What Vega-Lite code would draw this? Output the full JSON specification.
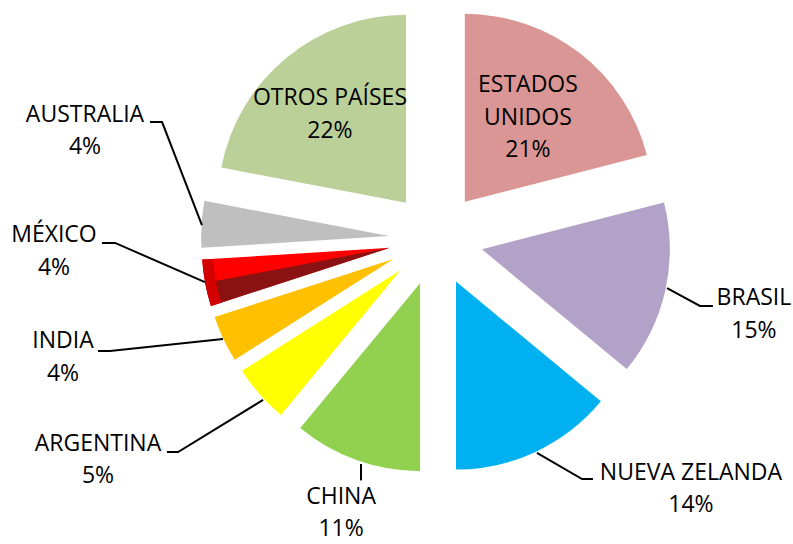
{
  "$schema": "https://vega.github.io/schema/vega-lite/v6.json",
  "width": 793,
  "height": 544,
  "padding": 0,
  "autosize": {"type": "none"},
  "background": "white",
  "config": {"view": {"stroke": null}},
  "datasets": {
    "shares": [
      {"country": "ESTADOS UNIDOS", "pct": 21, "order": 1},
      {"country": "BRASIL", "pct": 15, "order": 2},
      {"country": "NUEVA ZELANDA", "pct": 14, "order": 3},
      {"country": "CHINA", "pct": 11, "order": 4},
      {"country": "ARGENTINA", "pct": 5, "order": 5},
      {"country": "INDIA", "pct": 4, "order": 6},
      {"country": "MÉXICO", "pct": 4, "order": 7},
      {"country": "AUSTRALIA", "pct": 4, "order": 8},
      {"country": "OTROS PAÍSES", "pct": 22, "order": 9}
    ],
    "labels": [
      {"country": "ESTADOS UNIDOS", "lx": 0.489, "ly": 0.819},
      {"country": "BRASIL", "lx": 1.691, "ly": -0.316},
      {"country": "NUEVA ZELANDA", "lx": 1.356, "ly": -1.242},
      {"country": "CHINA", "lx": -0.505, "ly": -1.372},
      {"country": "ARGENTINA", "lx": -1.798, "ly": -1.088},
      {"country": "INDIA", "lx": -1.984, "ly": -0.545},
      {"country": "MÉXICO", "lx": -2.032, "ly": 0.021},
      {"country": "AUSTRALIA", "lx": -1.867, "ly": 0.662},
      {"country": "OTROS PAÍSES", "lx": -0.564, "ly": 0.75}
    ],
    "leaders": [
      {"country": "AUSTRALIA", "seq": 1, "lx": -1.245, "ly": 0.074},
      {"country": "AUSTRALIA", "seq": 2, "lx": -1.457, "ly": 0.622},
      {"country": "AUSTRALIA", "seq": 3, "lx": -1.521, "ly": 0.622},
      {"country": "MÉXICO", "seq": 1, "lx": -1.229, "ly": -0.229},
      {"country": "MÉXICO", "seq": 2, "lx": -1.707, "ly": -0.021},
      {"country": "MÉXICO", "seq": 3, "lx": -1.777, "ly": -0.021},
      {"country": "INDIA", "seq": 1, "lx": -1.133, "ly": -0.532},
      {"country": "INDIA", "seq": 2, "lx": -1.734, "ly": -0.596},
      {"country": "INDIA", "seq": 3, "lx": -1.798, "ly": -0.596},
      {"country": "ARGENTINA", "seq": 1, "lx": -0.92, "ly": -0.856},
      {"country": "ARGENTINA", "seq": 2, "lx": -1.372, "ly": -1.133},
      {"country": "ARGENTINA", "seq": 3, "lx": -1.431, "ly": -1.133},
      {"country": "CHINA", "seq": 1, "lx": -0.399, "ly": -1.197},
      {"country": "CHINA", "seq": 2, "lx": -0.399, "ly": -1.284},
      {"country": "NUEVA ZELANDA", "seq": 1, "lx": 0.537, "ly": -1.138},
      {"country": "NUEVA ZELANDA", "seq": 2, "lx": 0.777, "ly": -1.277},
      {"country": "NUEVA ZELANDA", "seq": 3, "lx": 0.835, "ly": -1.277},
      {"country": "BRASIL", "seq": 1, "lx": 1.229, "ly": -0.261},
      {"country": "BRASIL", "seq": 2, "lx": 1.404, "ly": -0.356},
      {"country": "BRASIL", "seq": 3, "lx": 1.473, "ly": -0.356}
    ]
  },
  "layer": [
    {
      "data": {"name": "shares"},
      "transform": [
        {"window": [{"op": "sum", "field": "pct", "as": "cum"}], "sort": [{"field": "order"}], "frame": [null, 0]},
        {"calculate": "datum.cum - datum.pct", "as": "start"},
        {"calculate": "(datum.start + datum.pct / 2) * PI / 50", "as": "mid"},
        {"calculate": "0.25 * sin(datum.mid)", "as": "ex"},
        {"calculate": "0.25 * cos(datum.mid)", "as": "ey"}
      ],
      "mark": {"type": "arc", "radius": 188},
      "encoding": {
        "x": {"field": "ex", "type": "quantitative", "scale": {"domain": [-2.3191, 1.8989], "nice": false, "zero": false}, "axis": null},
        "y": {"field": "ey", "type": "quantitative", "scale": {"domain": [-1.6223, 1.2713], "nice": false, "zero": false}, "axis": null},
        "theta": {"field": "start", "type": "quantitative", "scale": {"domain": [0, 100], "range": [0, 6.283185]}, "stack": null},
        "theta2": {"field": "cum"},
        "color": {
          "field": "country",
          "type": "nominal",
          "scale": {
            "domain": ["ESTADOS UNIDOS", "BRASIL", "NUEVA ZELANDA", "CHINA", "ARGENTINA", "INDIA", "MÉXICO", "AUSTRALIA", "OTROS PAÍSES"],
            "range": ["#DA9694", "#B3A2C7", "#00B0F0", "#92D050", "#FFFF00", "#FFC000", "#FF0000", "#BFBFBF", "#BBD098"]
          },
          "legend": null
        }
      }
    },
    {
      "data": {"name": "shares"},
      "transform": [
        {"window": [{"op": "sum", "field": "pct", "as": "cum"}], "sort": [{"field": "order"}], "frame": [null, 0]},
        {"calculate": "datum.cum - datum.pct", "as": "start"},
        {"calculate": "datum.start + datum.pct / 2", "as": "half"},
        {"calculate": "(datum.start + datum.pct / 2) * PI / 50", "as": "mid"},
        {"calculate": "0.25 * sin(datum.mid)", "as": "ex"},
        {"calculate": "0.25 * cos(datum.mid)", "as": "ey"},
        {"filter": "datum.country === 'MÉXICO'"}
      ],
      "mark": {"type": "arc", "radius": 188, "color": "#8B1212"},
      "encoding": {
        "x": {"field": "ex", "type": "quantitative", "scale": {"domain": [-2.3191, 1.8989], "nice": false, "zero": false}, "axis": null},
        "y": {"field": "ey", "type": "quantitative", "scale": {"domain": [-1.6223, 1.2713], "nice": false, "zero": false}, "axis": null},
        "theta": {"field": "start", "type": "quantitative", "scale": {"domain": [0, 100], "range": [0, 6.283185]}, "stack": null},
        "theta2": {"field": "half"}
      }
    },
    {
      "data": {"name": "shares"},
      "transform": [
        {"window": [{"op": "sum", "field": "pct", "as": "cum"}], "sort": [{"field": "order"}], "frame": [null, 0]},
        {"calculate": "datum.cum - datum.pct", "as": "start"},
        {"calculate": "(datum.start + datum.pct / 2) * PI / 50", "as": "mid"},
        {"calculate": "0.25 * sin(datum.mid)", "as": "ex"},
        {"calculate": "0.25 * cos(datum.mid)", "as": "ey"},
        {"filter": "datum.country === 'MÉXICO'"}
      ],
      "mark": {"type": "arc", "radius": 188, "radius2": 177, "color": "#D20000"},
      "encoding": {
        "x": {"field": "ex", "type": "quantitative", "scale": {"domain": [-2.3191, 1.8989], "nice": false, "zero": false}, "axis": null},
        "y": {"field": "ey", "type": "quantitative", "scale": {"domain": [-1.6223, 1.2713], "nice": false, "zero": false}, "axis": null},
        "theta": {"field": "start", "type": "quantitative", "scale": {"domain": [0, 100], "range": [0, 6.283185]}, "stack": null},
        "theta2": {"field": "cum"}
      }
    },
    {
      "data": {"name": "leaders"},
      "mark": {"type": "line", "color": "#000000", "strokeWidth": 2, "interpolate": "linear"},
      "encoding": {
        "x": {"field": "lx", "type": "quantitative", "scale": {"domain": [-2.3191, 1.8989], "nice": false, "zero": false}, "axis": null},
        "y": {"field": "ly", "type": "quantitative", "scale": {"domain": [-1.6223, 1.2713], "nice": false, "zero": false}, "axis": null},
        "detail": {"field": "country", "type": "nominal"},
        "order": {"field": "seq", "type": "quantitative"}
      }
    },
    {
      "data": {"name": "labels"},
      "transform": [
        {"lookup": "country", "from": {"data": {"name": "shares"}, "key": "country", "fields": ["pct"]}},
        {"calculate": "(datum.country === 'ESTADOS UNIDOS' ? 'ESTADOS\\nUNIDOS' : datum.country) + '\\n' + datum.pct + '%'", "as": "txt"}
      ],
      "mark": {"type": "text", "font": "Open Sans", "fontSize": 23, "lineHeight": 32.5, "align": "center", "baseline": "middle", "lineBreak": "\n", "color": "#000000"},
      "encoding": {
        "x": {"field": "lx", "type": "quantitative", "scale": {"domain": [-2.3191, 1.8989], "nice": false, "zero": false}, "axis": null},
        "y": {"field": "ly", "type": "quantitative", "scale": {"domain": [-1.6223, 1.2713], "nice": false, "zero": false}, "axis": null},
        "text": {"field": "txt", "type": "nominal"}
      }
    }
  ]
}
